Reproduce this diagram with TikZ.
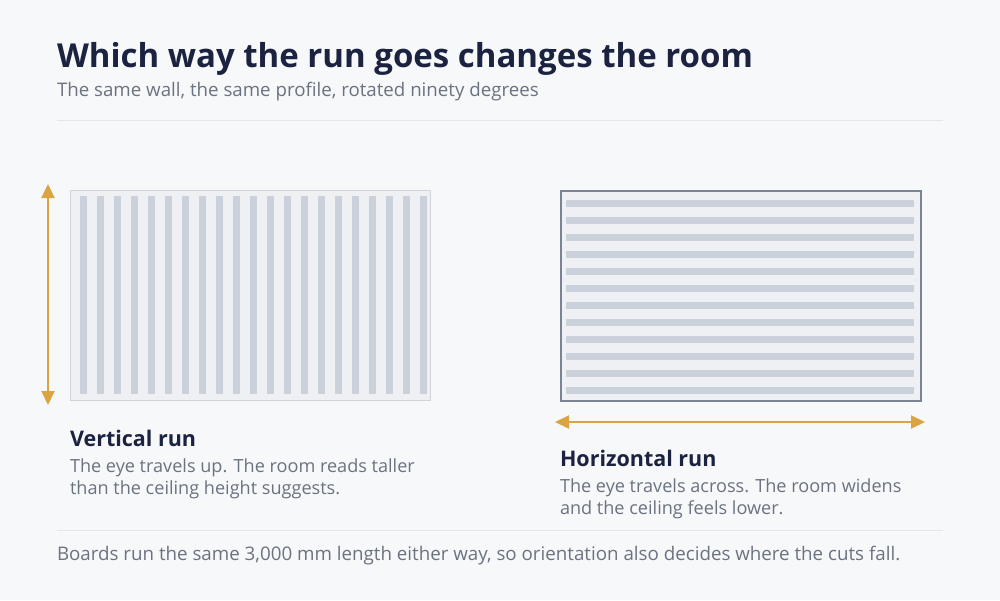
\documentclass[tikz,border=0pt]{standalone}
\usepackage{fontspec}
\setmainfont{Open Sans}
\usetikzlibrary{arrows.meta}
\definecolor{bg}{HTML}{F7F8FA}
\definecolor{navy}{HTML}{1C2340}
\definecolor{graytext}{HTML}{6B7280}
\definecolor{rule}{HTML}{E3E6EA}
\definecolor{stripe}{HTML}{CBD1DA}
\definecolor{panel}{HTML}{EEF0F4}
\definecolor{lborder}{HTML}{CFD4DB}
\definecolor{rborder}{HTML}{7A8394}
\definecolor{gold}{HTML}{D9A441}
\tikzset{
  txt/.style={anchor=base west, inner sep=0pt, outer sep=0pt},
  heading/.style={txt, text=navy, font=\bfseries\fontsize{21.5}{24}\selectfont},
  body/.style={txt, text=graytext, font=\fontsize{18.1}{22}\selectfont},
  sep/.style={draw=rule, line width=1pt},
  runarrow/.style={draw=gold, line width=2pt, {Triangle[width=13pt,length=14pt]}-{Triangle[width=13pt,length=14pt]}},
  stripefill/.style={fill=stripe, draw=none}
}
\begin{document}
\begin{tikzpicture}[x=1pt,y=-1pt]
\fill[bg] (0,0) rectangle (1000,600);
\useasboundingbox (0,0) rectangle (1000,600);
% title
\node[txt, text=navy, font=\bfseries\fontsize{33}{36}\selectfont] (title) at (57,67) {Which way the run goes changes the room};
\node[txt, text=graytext, font=\fontsize{18.7}{20}\selectfont] (subtitle) at (57,96) {The same wall, the same profile, rotated ninety degrees};
\coordinate (s1a) at (57,120.5);
\coordinate (s1b) at (943,120.5);
\draw[sep] (s1a) -- (s1b);
% left panel
\node[draw=lborder, fill=panel, line width=1pt, minimum width=360pt, minimum height=210pt, inner sep=0pt, anchor=north west] (lpanel) at (70,190) {};
\foreach \i in {0,...,20} {
  \fill[stripefill] ({80+17*\i},196) rectangle ({87+17*\i},394);
}
\coordinate (lat) at (48,184);
\coordinate (lab) at (48,405);
\draw[runarrow] (lat) -- (lab);
\node[heading] (lhead) at (70,446) {Vertical run};
\node[body] (lb1) at (70,472) {The eye travels up. The room reads taller};
\node[body] (lb2) at (70,494) {than the ceiling height suggests.};
% right panel
\node[draw=rborder, fill=panel, line width=2pt, minimum width=360pt, minimum height=210pt, inner sep=0pt, anchor=north west] (rpanel) at (560,190) {};
\foreach \i in {0,...,11} {
  \fill[stripefill] (566,{200+17*\i}) rectangle (914,{207+17*\i});
}
\coordinate (ral) at (555,422);
\coordinate (rar) at (925,422);
\draw[runarrow] (ral) -- (rar);
\node[heading] (rhead) at (560,466) {Horizontal run};
\node[body] (rb1) at (560,492) {The eye travels across. The room widens};
\node[body] (rb2) at (560,514) {and the ceiling feels lower.};
% footer
\coordinate (s2a) at (57,530.5);
\coordinate (s2b) at (943,530.5);
\draw[sep] (s2a) -- (s2b);
\node[txt, text=graytext, font=\fontsize{18.75}{20}\selectfont] (footer) at (57,560) {Boards run the same 3,000 mm length either way, so orientation also decides where the cuts fall.};
\end{tikzpicture}
\end{document}
